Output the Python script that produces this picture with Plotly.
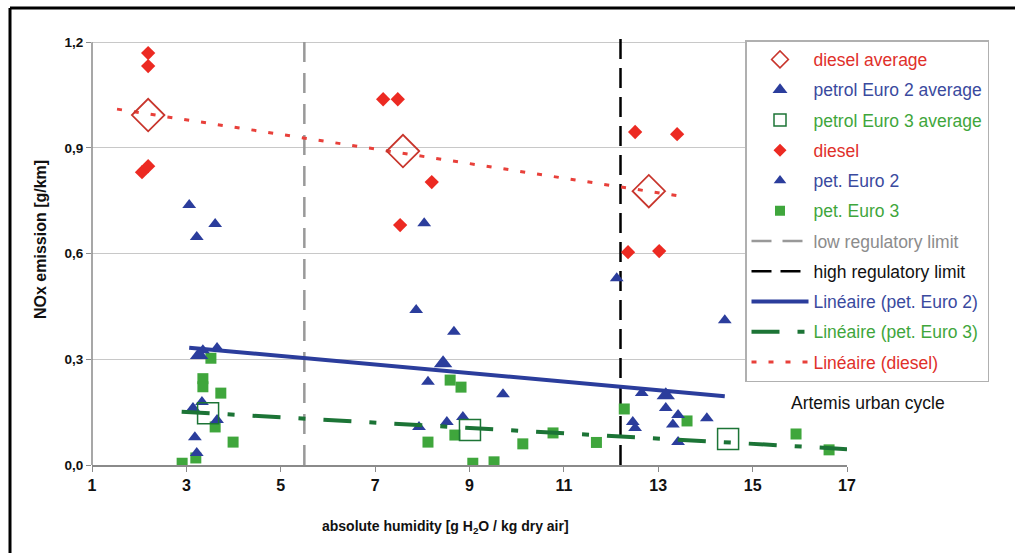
import plotly.graph_objects as go

# NOx emission vs. absolute humidity (Artemis urban cycle)
diesel_x = [2.19, 2.19, 2.06, 2.19, 7.17, 7.48, 7.53, 8.20, 12.51, 13.40, 12.36, 13.02]
diesel_y = [1.169, 1.132, 0.831, 0.848, 1.038, 1.038, 0.681, 0.803, 0.945, 0.939, 0.604, 0.607]

euro2_x = [3.06, 3.22, 3.61, 3.35, 3.65, 3.33, 3.14, 3.65, 3.18, 3.22,
           7.87, 8.04, 8.67, 8.12, 9.71, 7.93, 8.52, 8.86,
           12.12, 14.41, 12.65, 13.16, 12.46, 12.51, 13.31, 13.42, 13.42, 14.03]
euro2_y = [0.738, 0.647, 0.684, 0.326, 0.332, 0.179, 0.162, 0.128, 0.079, 0.034,
           0.440, 0.686, 0.378, 0.236, 0.201, 0.108, 0.122, 0.136,
           0.530, 0.411, 0.204, 0.162, 0.122, 0.105, 0.115, 0.142, 0.065, 0.133]

euro3_x = [2.91, 3.20, 3.52, 3.35, 3.35, 3.73, 3.61, 3.99,
           8.59, 8.82, 8.12, 8.69, 9.07, 9.52, 10.13, 10.77, 11.69,
           12.28, 13.61, 15.92, 16.62]
euro3_y = [0.005, 0.020, 0.303, 0.245, 0.222, 0.204, 0.108, 0.065,
           0.241, 0.221, 0.065, 0.085, 0.005, 0.009, 0.060, 0.091, 0.064,
           0.159, 0.125, 0.088, 0.043]

diesel_avg_x = [2.19, 7.59, 12.80]
diesel_avg_y = [0.993, 0.891, 0.777]
euro2_avg_x = [3.27, 8.44, 13.16]
euro2_avg_y = [0.312, 0.289, 0.198]
euro3_avg_x = [3.46, 9.01, 14.48]
euro3_avg_y = [0.147, 0.099, 0.074]

# linear trend lines (end points)
diesel_trend_x = [1.53, 13.61]
diesel_trend_y = [1.010, 0.760]
euro2_trend_x = [3.06, 14.41]
euro2_trend_y = [0.333, 0.195]
euro3_trend_x = [2.90, 17.0]
euro3_trend_y = [0.151, 0.045]

# regulatory humidity limits
low_limit = 5.5
high_limit = 12.2
limit_y = [0.0, 1.226]

x_ticks = [1, 3, 5, 7, 9, 11, 13, 15, 17]
y_ticks = [0.0, 0.3, 0.6, 0.9, 1.2]
y_ticklabels = ["0,0", "0,3", "0,6", "0,9", "1,2"]

RED = "#ec2a22"
RED_DARK = "#c8352c"
BLUE = "#2b3d9c"
GREEN = "#3fa63c"
GREEN_DARK = "#1c7436"
GRAY = "#999999"

FONT = "Liberation Sans, Arial, sans-serif"


def lab(text, color):
    return f'<span style="color:{color}">{text}</span>'


fig = go.Figure()


def marker_series(x, y, marker, name, rank, legend_marker):
    """Plot a marker series; a blank companion trace carries its legend symbol."""
    fig.add_trace(go.Scatter(x=x, y=y, mode="markers", marker=marker,
                             showlegend=False, hoverinfo="x+y"))
    fig.add_trace(go.Scatter(x=[None], y=[None], mode="markers", marker=legend_marker,
                             name=name, legendrank=rank, legendgroup=f"g{rank}"))


def line_series(x, y, line, name, rank):
    fig.add_trace(go.Scatter(x=x, y=y, mode="lines", line=line, name=name,
                             legendrank=rank, legendgroup=f"g{rank}"))


# limit lines
line_series([low_limit, low_limit], limit_y,
            dict(color=GRAY, width=2.5, dash="20px,11px"),
            lab("low regulatory limit", "#8c8c8c"), 7)
line_series([high_limit, high_limit], limit_y,
            dict(color="#000000", width=2.5, dash="20px,9px"),
            lab("high regulatory limit", "#111111"), 8)

# individual measurements
marker_series(euro3_x, euro3_y, dict(symbol="square", size=11, color=GREEN),
              lab("pet. Euro 3", GREEN), 6,
              dict(symbol="square", size=10, color=GREEN))
marker_series(euro2_x, euro2_y, dict(symbol="triangle-up", size=12, color=BLUE),
              lab("pet. Euro 2", "#3a4a9e"), 5,
              dict(symbol="triangle-up", size=11, color=BLUE))
marker_series(diesel_x, diesel_y, dict(symbol="diamond", size=11, color=RED),
              lab("diesel", "#e0302a"), 4,
              dict(symbol="diamond", size=10, color=RED))

# trend lines
line_series(euro2_trend_x, euro2_trend_y, dict(color=BLUE, width=4),
            lab("Linéaire (pet. Euro 2)", "#3a4a9e"), 9)
line_series(euro3_trend_x, euro3_trend_y,
            dict(color=GREEN_DARK, width=4, dash="28px,18px,7px,18px"),
            lab("Linéaire (pet. Euro 3)", GREEN), 10)
line_series(diesel_trend_x, diesel_trend_y,
            dict(color="#e8403a", width=3, dash="5px,12px"),
            lab("Linéaire (diesel)", "#e0302a"), 11)

# averages
marker_series(diesel_avg_x, diesel_avg_y,
              dict(symbol="diamond-open", size=25, color=RED_DARK,
                   line=dict(color=RED_DARK, width=1.8)),
              lab("diesel average", "#e0302a"), 1,
              dict(symbol="diamond-open", size=13, color=RED_DARK,
                   line=dict(color=RED_DARK, width=1.5)))
marker_series(euro2_avg_x, euro2_avg_y, dict(symbol="triangle-up", size=16, color=BLUE),
              lab("petrol Euro 2 average", "#3a4a9e"), 2,
              dict(symbol="triangle-up", size=13, color=BLUE))
marker_series(euro3_avg_x, euro3_avg_y,
              dict(symbol="square-open", size=21, color=GREEN_DARK,
                   line=dict(color=GREEN_DARK, width=1.5)),
              lab("petrol Euro 3 average", GREEN), 3,
              dict(symbol="square-open", size=12, color=GREEN_DARK,
                   line=dict(color=GREEN_DARK, width=1.5)))

L, R, T, B = 92, 847, 33, 465
W, H = 1015, 553
pw, ph = R - L, B - T


def px(xp):
    return (xp - L) / pw


def py(yp):
    return (B - yp) / ph


def note(text, x, y, size, angle=0):
    return dict(text=text, xref="paper", yref="paper", x=px(x), y=py(y),
                xanchor="center", yanchor="middle", textangle=angle,
                showarrow=False, font=dict(family=FONT, size=size, color="#111111"))


fig.update_layout(
    width=W, height=H,
    margin=dict(l=L, r=W - R, t=T, b=H - B),
    paper_bgcolor="white", plot_bgcolor="white",
    font=dict(family=FONT, size=15, color="#111111"),
    showlegend=True,
    legend=dict(x=px(745), y=py(40), xanchor="left", yanchor="top",
                bgcolor="white", bordercolor="#b0b0b0", borderwidth=1.5,
                font=dict(family=FONT, size=17.5), tracegroupgap=4.5,
                itemwidth=57, traceorder="grouped"),
    xaxis=dict(range=[1, 17], tickvals=x_ticks, showgrid=False, zeroline=False,
               showline=True, linecolor="#8a8a8a", linewidth=1.5,
               ticks="outside", ticklen=5, tickcolor="#8a8a8a",
               tickfont=dict(family=FONT, size=16, weight="bold", color="#111111")),
    yaxis=dict(range=[0, 1.226], tickvals=y_ticks, ticktext=y_ticklabels,
               showgrid=True, gridcolor="#c8c8c8", gridwidth=1.2, zeroline=False,
               showline=False, ticks="outside", ticklen=5, tickcolor="#8a8a8a",
               tickfont=dict(family=FONT, size=13.5, weight="bold", color="#111111")),
    shapes=[
        # left axis line up to the top tick
        dict(type="line", xref="paper", yref="y", x0=0, x1=0, y0=0, y1=1.2,
             line=dict(color="#8a8a8a", width=1.5), layer="above"),
        # outer frame
        dict(type="line", xref="paper", yref="paper", x0=px(10), x1=px(1015),
             y0=py(8), y1=py(8), line=dict(color="#000000", width=3)),
        dict(type="line", xref="paper", yref="paper", x0=px(10), x1=px(10),
             y0=py(8), y1=py(553), line=dict(color="#000000", width=3)),
    ],
    annotations=[
        note("<b>absolute humidity [g H<sub>2</sub>O / kg dry air]</b>", 445, 527, 14),
        note("<b>NOx emission [g/km]</b>", 41, 240, 16, angle=-90),
        note("Artemis urban cycle", 868, 403, 17.5),
    ],
)

fig.write_html("out.html")
